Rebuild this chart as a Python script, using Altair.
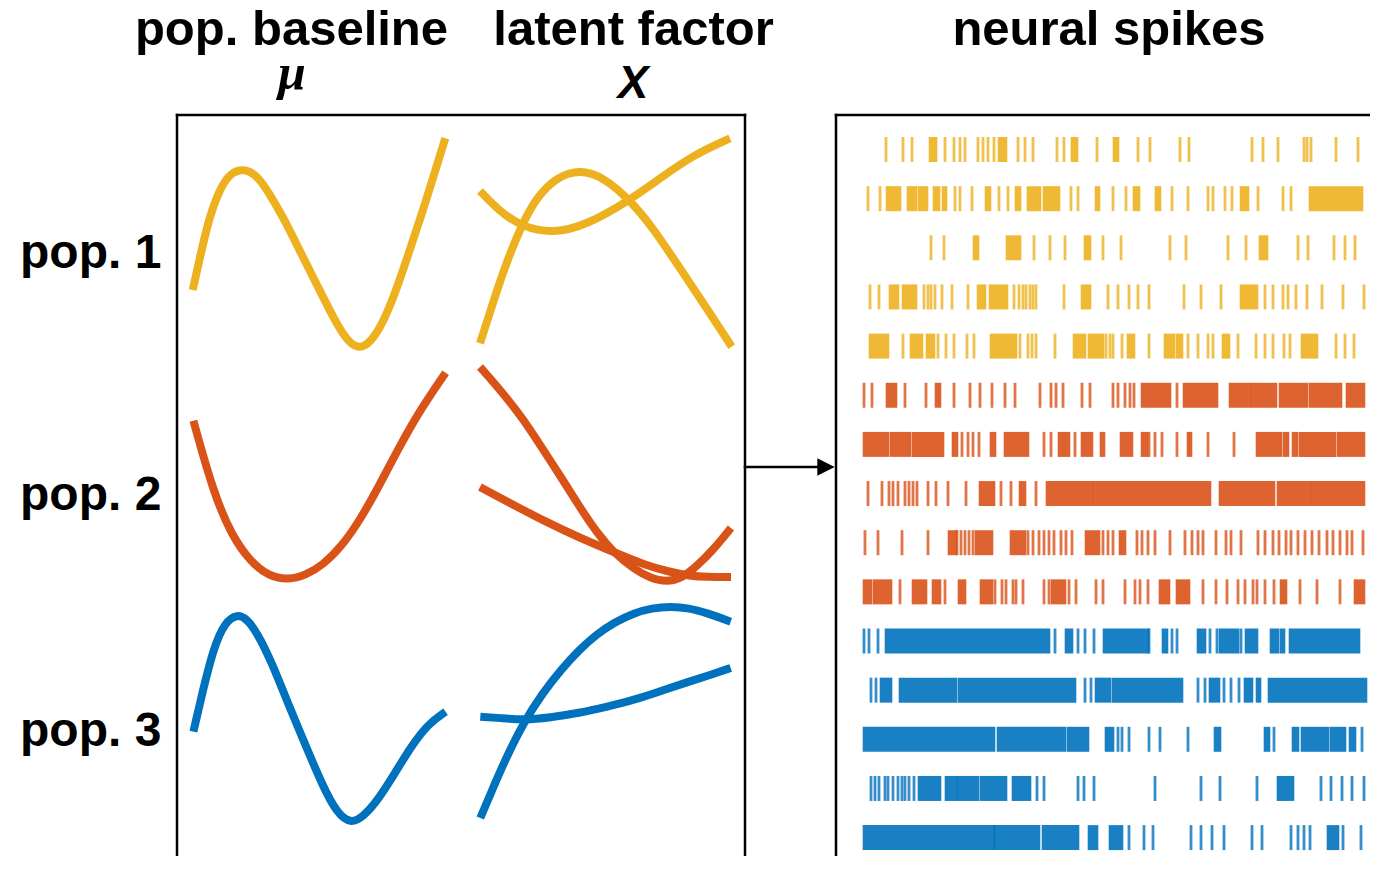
import altair as alt
import pandas as pd

# ---------------- colours ----------------
POP_NAMES = ["pop. 1", "pop. 2", "pop. 3"]
POP_COLORS = ["#EDB120", "#D95319", "#0072BD"]

# ---------------- curves (figure pixel units) ----------------
pop1_mu = [(192.7, 290), (202, 248), (210, 215), (220.3, 188), (230.3, 173), (243.7, 168.5),
           (257, 175), (270.3, 195), (283.7, 218.3), (300.3, 251.7), (317, 285), (333.7, 318.3),
           (347, 341), (358.7, 349), (370.3, 343), (383.7, 321.7), (397, 288.3), (410.3, 248.3),
           (423.7, 208.3), (437, 165), (445.3, 138.3)]
pop1_xa = [(480, 343.3), (493.3, 301.7), (506.7, 261.7), (521.7, 225), (536.7, 197), (556.7, 177),
           (580, 169.5), (603.3, 177), (630, 200), (653.3, 228.3), (680, 268.3), (706.7, 308.3),
           (731.7, 346.7)]
pop1_xb = [(480, 191), (500, 211.7), (521.7, 226.7), (553.3, 233.5), (586.7, 225), (630, 200),
           (660, 178.3), (693.3, 155), (730, 138.3)]
pop2_mu = [(193.4, 420.7), (213.5, 493), (232, 536), (250, 561), (268, 576), (288.5, 580), (306, 575),
           (323, 565), (342, 546), (360, 520), (378, 488), (396, 453), (420, 410), (445.6, 372.7)]
pop2_xa = [(480, 367), (502, 392), (524, 420), (542, 448), (561, 477), (579, 506), (597, 533), (615, 554),
           (634, 569), (650, 578), (667, 582), (682, 578), (696, 567), (714, 549), (731, 528)]
pop2_xb = [(480, 487), (510, 503), (542, 520), (580, 538), (616, 553), (645, 565), (670, 572), (690, 576),
           (707, 577), (731, 577)]
pop3_mu = [(193.4, 731.7), (203, 690), (213.5, 648), (225, 622), (237.3, 614), (247, 619), (257.4, 633),
           (272, 663), (286.6, 700), (305, 744), (323, 786.7), (337, 813), (350.6, 824), (364, 816),
           (378, 800), (395, 773), (411, 746.7), (428, 724), (445.6, 711.7)]
pop3_xa = [(480.3, 818), (493, 788), (506, 758), (524, 722), (542, 694), (560.8, 670), (579, 650), (597, 634),
           (615, 622), (634, 613), (652, 608), (670.4, 606.5), (689, 608), (707, 613), (730.7, 621.7)]
pop3_xb = [(480.3, 716.7), (500, 718), (524, 720), (550, 717.5), (579, 713), (606, 707), (634, 700),
           (661, 691), (688.7, 681.7), (710, 675), (730.7, 668)]

CURVES = [("pop. 1", "mu1", pop1_mu), ("pop. 1", "xa1", pop1_xa), ("pop. 1", "xb1", pop1_xb),
          ("pop. 2", "mu2", pop2_mu), ("pop. 2", "xa2", pop2_xa), ("pop. 2", "xb2", pop2_xb),
          ("pop. 3", "mu3", pop3_mu), ("pop. 3", "xa3", pop3_xa), ("pop. 3", "xb3", pop3_xb)]

# ---------------- spike rasters: time bins; number = one spike, [a, b] = dense burst ----------------
R1 = [26, 43, 52, [70, 76], 85, 94, 100, 105, 118, 123, 128, 134, [139, 146], 158, 165, 173, 197, 204,
      [212, 217], 237, [254, 258], 278, 290, 320, 329, 392, 403, 418, 444, 447, 451, 476, 498]
R2 = [8, 20, [27, 40], [48, 56], [59, 67], [74, 79], [83, 86], 95, 100, 112, [126, 130], 139, 148, [156, 160],
      [168, 180], [184, 199], 211, 218, [236, 239], 253, 266, [274, 279], [296, 300], 312, 328, 348, 353, 365,
      372, [381, 388], 398, 423, 431, [450, 502]]
R3 = [71, 84, [114, 118], [147, 160], 174, 190, 205, [225, 230], 243, 261, 310, 326, 368, 386, [400, 407],
      438, 448, 474, 485, 495]
R4 = [10, 19, [30, 38], [43, 56], 64, 68, 71, 75, 82, 92, 108, [118, 125], [130, 147], 154, 159, 163, 166,
      170, 173, 176, 204, [222, 230], 248, 258, 269, 278, 289, 324, 341, 361, [381, 397], 405, 413, 423, 428,
      436, 447, 462, 483, 504]
R5 = [[10, 28], 43, [51, 62], [67, 74], 78, 86, 94, 107, 114, [131, 139], [141, 156], 160, 168, 172, 176,
      195, [214, 225], [229, 243], 246, 250, 253, 262, [268, 274], 289, [305, 314], [317, 322], 328, 338, 348,
      353, [363, 369], 378, 396, 405, 413, 424, 430, [442, 457], 476, 485, 494]
R6 = [4, 12, [27, 36], 45, 66, [76, 80], 94, 110, 120, 132, 145, 155, 180, 191, 196, 203, 222, 230, 253,
      258, 265, 270, 274, [282, 310], 317, [324, 357], [370, 390], [392, 416], [420, 447], [450, 481], [487, 504]]
R7 = [[4, 28], [31, 50], [53, 83], [93, 97], 102, 108, 113, 119, [131, 135], [145, 168], 184, 191, [199, 209],
      215, [222, 232], [241, 244], [261, 272], [282, 287], 289, 295, 302, 317, [328, 331], 348, 374,
      [397, 421], [424, 428], [433, 437], [440, 475], [478, 504]]
R8 = [8, 22, 29, 33, 38, 45, 49, 53, 57, 68, 76, 88, 106, [120, 134], 141, 151, [160, 165], 176, [187, 232],
      [234, 350], [360, 414], [418, 450], [452, 504]]
R9 = [5, 18, 42, 68, [89, 96], 97, 101, 105, 109, 113, [116, 132], [151, 165], 168, 173, 179, 184, 189, 194,
      201, 206, 212, [226, 239], 243, 248, 253, [260, 265], 277, 282, 288, 295, 310, 325, 332, 338, 343, 356,
      366, 371, 381, 398, 405, 413, 419, 426, 431, 438, 445, 452, 459, 467, 473, 480, 487, 492, 503]
R10 = [[4, 11], [14, 31], 40, [53, 66], [73, 80], 85, [99, 105], [121, 132], 135, 142, 146, 153, 156, 163,
       184, 189, [192, 205], 209, 216, 236, 243, 265, 275, 280, 288, [300, 309], [317, 329], 343, 356, 367,
       378, 385, 393, 397, 405, 414, [421, 426], 440, 457, 480, [495, 504]]
R11 = [4, 9, 18, [26, 189], 195, [206, 212], 218, 225, 234, [244, 288], 289, [303, 307], 312, 317,
       [338, 345], 350, 357, [360, 378], 381, [386, 397], [411, 418], [421, 424], [430, 499]]
R12 = [11, 16, [21, 31], [40, 96], [99, 215], 225, 231, [236, 250], [253, 322], 338, 345, [350, 359], 364,
       371, 379, [385, 392], [397, 400], [409, 506]]
R13 = [[4, 134], [138, 205], [208, 228], [246, 253], 258, 262, 269, 289, 300, 328, [355, 360], [405, 409],
       414, [433, 438], [442, 468], [471, 485], [490, 495], 502]
R14 = [11, 15, 19, 25, 28, 33, 38, 42, 45, 49, 54, [59, 80], [86, 96], [98, 118], [121, 146], [153, 170],
       177, 184, 218, 224, 234, 295, 341, 360, 397, [418, 433], 461, 471, 482, 492, 504]
R15 = [[4, 134], [135, 179], [183, 218], [229, 237], [250, 262], 269, 284, 293, 331, 341, 352, 364, 392,
       402, 431, 438, 444, 450, [468, 478], 483, 501]

RASTER = [R1, R2, R3, R4, R5, R6, R7, R8, R9, R10, R11, R12, R13, R14, R15]

TITLES = ["pop. baseline", "latent factor", "neural spikes"]
SYMBOLS = ["\u03bc", "X"]

# ---------------- layout (page pixels) ----------------
W, H = 1362, 848
X0, Y0 = 8, 8          # page offset of the plot area
RASTER_X0 = 860        # page x of time bin 0
ROW_Y0, ROW_DY, ROW_H = 149.5, 49.15, 25

# ---------------- tables ----------------
curve_rows = []
for pop, cid, pts in CURVES:
    for k, (x, y) in enumerate(pts):
        curve_rows.append({"pop": pop, "curve": cid, "k": k, "px": x, "py": y})
curves_df = pd.DataFrame(curve_rows)

tick_rows, block_rows = [], []
for i, row in enumerate(RASTER):
    pop = POP_NAMES[i // 5]
    yc = ROW_Y0 + ROW_DY * i
    for item in row:
        if isinstance(item, list):
            block_rows.append({"pop": pop, "px0": RASTER_X0 + item[0] - 1.3, "px1": RASTER_X0 + item[1] + 1.3,
                               "py0": yc - ROW_H / 2, "py1": yc + ROW_H / 2})
        else:
            tick_rows.append({"pop": pop, "px": RASTER_X0 + item, "py": yc})
ticks_df = pd.DataFrame(tick_rows)
blocks_df = pd.DataFrame(block_rows)

xs = alt.Scale(domain=[X0, X0 + W], nice=False, zero=False)
ys = alt.Scale(domain=[Y0, Y0 + H], nice=False, zero=False, reverse=True)
cs = alt.Scale(domain=POP_NAMES, range=POP_COLORS)

curves = alt.Chart(curves_df).mark_line(strokeWidth=8, strokeCap="butt", interpolate="basis").encode(
    x=alt.X("px:Q", scale=xs, axis=None),
    y=alt.Y("py:Q", scale=ys, axis=None),
    color=alt.Color("pop:N", scale=cs, legend=None),
    detail="curve:N",
    order="k:Q",
)

blocks = alt.Chart(blocks_df).mark_rect(opacity=0.9).encode(
    x=alt.X("px0:Q", scale=xs, axis=None), x2="px1:Q",
    y=alt.Y("py0:Q", scale=ys, axis=None), y2="py1:Q",
    color=alt.Color("pop:N", scale=cs, legend=None),
)

ticks = alt.Chart(ticks_df).mark_tick(orient="vertical", thickness=2.8, size=ROW_H, opacity=0.8).encode(
    x=alt.X("px:Q", scale=xs, axis=None),
    y=alt.Y("py:Q", scale=ys, axis=None),
    color=alt.Color("pop:N", scale=cs, legend=None),
)

one = pd.DataFrame({"d": [0]})


def rule(x1, y1, x2, y2, w=2.5):
    return alt.Chart(one).mark_rule(color="black", strokeWidth=w, strokeCap="square").encode(
        x=alt.value(x1 - X0), x2=alt.value(x2 - X0), y=alt.value(y1 - Y0), y2=alt.value(y2 - Y0))


def label(text, x, y, size, align="center", style="normal", font="Liberation Sans"):
    return alt.Chart(pd.DataFrame({"label": [text]})).mark_text(
        font=font, fontSize=size, fontWeight="bold", fontStyle=style, align=align,
        baseline="alphabetic", color="black").encode(
        x=alt.value(x - X0), y=alt.value(y - Y0), text="label:N")


frames = [
    rule(177, 115, 745, 115), rule(177, 115, 177, 880), rule(745, 115, 745, 880),
    rule(836, 115, 1390, 115), rule(836, 115, 836, 880),
    rule(745, 467, 820, 467),
]
arrow_head = alt.Chart(one).mark_point(shape="M-1,-1L1,0L-1,1Z", filled=True, size=300, color="black",
                                       opacity=1, strokeWidth=0).encode(
    x=alt.value(826 - X0), y=alt.value(467 - Y0))

texts = [
    label(TITLES[0], 291.5, 45, 49),
    label(TITLES[1], 633.5, 45, 49),
    label(TITLES[2], 1109, 45, 49),
    label(SYMBOLS[0], 292, 89, 50, style="italic", font="Liberation Serif"),
    label(SYMBOLS[1], 633, 98, 46, style="italic"),
    label(POP_NAMES[0], 20, 268, 48, align="left"),
    label(POP_NAMES[1], 20, 510, 48, align="left"),
    label(POP_NAMES[2], 20, 746, 48, align="left"),
]

chart = alt.layer(blocks, ticks, curves, *frames, arrow_head, *texts).properties(
    width=W, height=H, padding=0, autosize=alt.AutoSizeParams(type="none"), background="white"
).configure_view(stroke=None)

chart.save("out.html", embed_options={"renderer": "svg", "actions": False})
